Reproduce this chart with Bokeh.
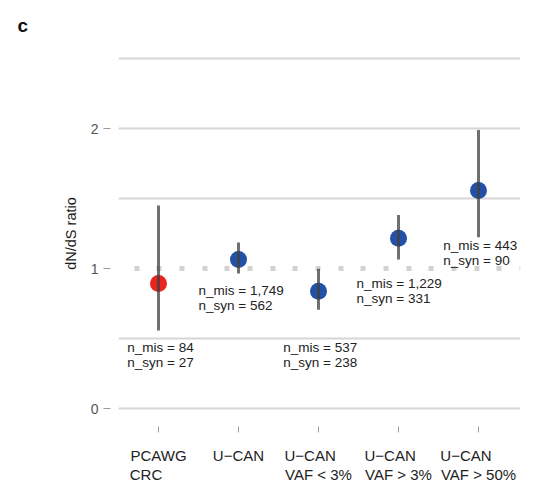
from bokeh.plotting import figure
from bokeh.models import Range1d, FixedTicker, Span, ColumnDataSource
from bokeh.core.properties import value
from bokeh.embed import file_html
from bokeh.resources import INLINE

# ---------------- data ----------------
categories = ["PCAWG\nCRC", "U\u2212CAN", "U\u2212CAN\nVAF < 3%",
              "U\u2212CAN\nVAF > 3%", "U\u2212CAN\nVAF > 50%"]
ratio = [0.893, 1.064, 0.838, 1.216, 1.557]
ci_low = [0.557, 0.964, 0.705, 1.064, 1.223]
ci_high = [1.450, 1.186, 0.998, 1.383, 1.990]
n_mis = [84, 1749, 537, 1229, 443]
n_syn = [27, 562, 238, 331, 90]
point_colors = ["#E8261F", "#2451A5", "#2451A5", "#2451A5", "#2451A5"]
y_ticks = [0, 1, 2]
grid_levels = [0, 0.5, 1.5, 2, 2.5]
neutral = 1.0

# annotation placement (layout only, data units)
label_dx = [-0.39, -0.50, -0.44, -0.525, -0.44]
label_top = [0.488, 0.90, 0.488, 0.945, 1.219]

FONT = "Liberation Sans"
# approximate Liberation Sans advance widths (em) used to left-justify
# the lines of each multi-line category label inside its centred block
_W = {"P": .667, "C": .722, "A": .667, "W": .944, "G": .778, "R": .722,
      "U": .722, "\u2212": .584, "N": .722, "V": .667, "F": .611, " ": .278,
      "<": .584, ">": .584, "3": .556, "5": .556, "0": .556, "%": .889}


def left_justify(label):
    lines = label.split("\n")
    widths = [sum(_W.get(c, .556) for c in ln) for ln in lines]
    wmax = max(widths)
    return "\n".join(ln + "\u00a0" * round((wmax - w) / .278)
                     for ln, w in zip(lines, widths))


xs = [i + 0.5 for i in range(len(categories))]

p = figure(width=547, height=486,
           x_range=Range1d(0, 5.025), y_range=Range1d(-0.05, 2.55),
           output_backend="svg", toolbar_location=None,
           min_border_left=118, min_border_right=27,
           min_border_top=51, min_border_bottom=71)
p.outline_line_color = None
p.background_fill_color = "white"
p.border_fill_color = "white"

p.title.text = "c"
p.title.text_font = FONT
p.title.text_font_size = "19px"
p.title.text_font_style = "bold"
p.title.text_color = "#111111"
p.title.align = "left"
p.title.vertical_align = "top"
p.title.offset = -101
p.title.standoff = 28

p.xgrid.visible = False
p.ygrid.ticker = FixedTicker(ticks=grid_levels)
p.ygrid.grid_line_color = "#d6d6d6"
p.ygrid.grid_line_width = 2

p.add_layout(Span(location=neutral, dimension="width", line_color="#d2d2d2",
                  line_width=5, line_dash="5 18 5 17 5 18", line_dash_offset=7,
                  level="underlay"))

src = ColumnDataSource(dict(
    x=xs, y=ratio, lo=ci_low, hi=ci_high, color=point_colors,
    lx=[x + d for x, d in zip(xs, label_dx)], ly=label_top,
    txt=[f"n_mis = {m:,}\nn_syn = {s:,}" for m, s in zip(n_mis, n_syn)],
))

p.scatter("x", "y", source=src, size=17, fill_color="color", line_color=None)
p.segment(x0="x", y0="lo", x1="x", y1="hi", source=src,
          line_color="#404040", line_alpha=0.75, line_width=3)
p.text(x="lx", y="ly", text="txt", source=src,
       text_font=value(FONT), text_font_size="13.5px", text_color="#222222",
       text_align="left", text_baseline="top", text_line_height=1.0)

# y axis
ya = p.yaxis[0]
ya.ticker = FixedTicker(ticks=y_ticks)
ya.axis_line_color = None
ya.major_tick_line_color = "#9a9a9a"
ya.major_tick_line_width = 1
ya.major_tick_in = -8
ya.major_tick_out = 15
ya.minor_tick_line_color = None
ya.major_label_text_font = FONT
ya.major_label_text_font_size = "14px"
ya.major_label_text_color = "#555555"
ya.major_label_standoff = 5
ya.axis_label = "dN/dS ratio"
ya.axis_label_text_font = FONT
ya.axis_label_text_font_size = "14.5px"
ya.axis_label_text_font_style = "normal"
ya.axis_label_text_color = "#1a1a1a"
ya.axis_label_standoff = 9

# x axis with category names
xa = p.xaxis[0]
xa.ticker = FixedTicker(ticks=xs)
xa.major_label_overrides = {x: left_justify(name) for x, name in zip(xs, categories)}
xa.axis_line_color = None
xa.major_tick_line_color = "#9a9a9a"
xa.major_tick_in = -11
xa.major_tick_out = 17
xa.minor_tick_line_color = None
xa.major_label_text_font = FONT
xa.major_label_text_font_size = "15px"
xa.major_label_text_color = "#222222"
xa.major_label_standoff = 14
xa.major_label_text_line_height = 1.15

open("out.html", "w").write(file_html(p, INLINE))
